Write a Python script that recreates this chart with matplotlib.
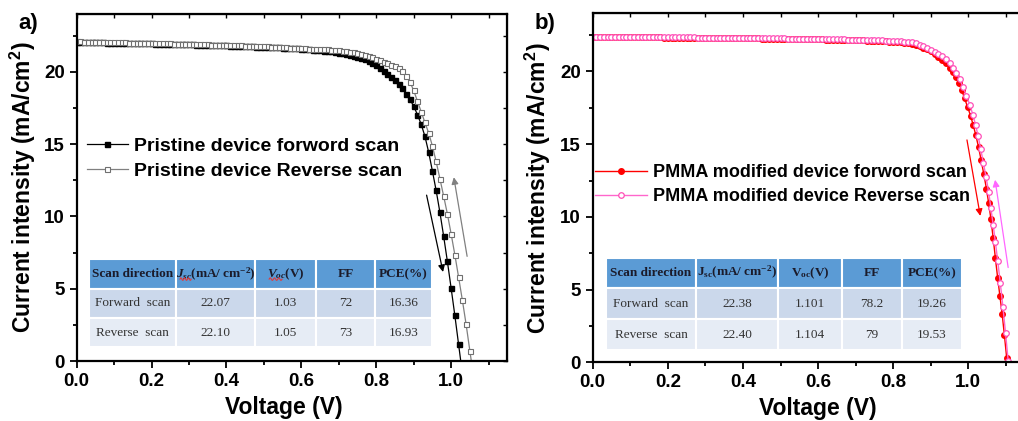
import numpy as np
import matplotlib.pyplot as plt
from matplotlib.patches import Rectangle
from matplotlib.ticker import MultipleLocator

plt.rcParams['font.family'] = 'Liberation Sans'
plt.rcParams['font.weight'] = 'bold'
plt.rcParams['mathtext.fontset'] = 'custom'
plt.rcParams['mathtext.rm'] = 'Liberation Serif'
plt.rcParams['mathtext.it'] = 'Liberation Serif:italic:bold'
plt.rcParams['mathtext.bf'] = 'Liberation Serif:bold'
plt.rcParams['mathtext.sf'] = 'Liberation Sans:bold'

scan_step = 0.01  # V

# a) pristine device, J in mA/cm2 at each scan step from 0 V
j_pristine_fwd = [
    22.07, 22.07, 22.06, 22.06, 22.05, 22.05, 22.04, 22.04, 22.03, 22.03,
    22.02, 22.02, 22.01, 22.01, 22.00, 22.00, 21.99, 21.99, 21.98, 21.98,
    21.97, 21.96, 21.96, 21.95, 21.95, 21.94, 21.93, 21.93, 21.92, 21.91,
    21.91, 21.90, 21.89, 21.89, 21.88, 21.87, 21.86, 21.86, 21.85, 21.84,
    21.83, 21.82, 21.81, 21.80, 21.79, 21.78, 21.77, 21.76, 21.75, 21.74,
    21.73, 21.72, 21.71, 21.70, 21.69, 21.68, 21.67, 21.65, 21.64, 21.62,
    21.60, 21.58, 21.56, 21.54, 21.52, 21.50, 21.47, 21.44, 21.41, 21.37,
    21.33, 21.29, 21.25, 21.20, 21.13, 21.05, 20.96, 20.86, 20.74, 20.60,
    20.44, 20.27, 20.08, 19.88, 19.66, 19.42, 19.15, 18.85, 18.50, 18.10,
    17.62, 17.05, 16.38, 15.55, 14.45, 13.15, 11.80, 10.30, 8.65, 6.90,
    5.05, 3.15, 1.15, -0.85]
j_pristine_rev = [
    22.10, 22.10, 22.09, 22.09, 22.08, 22.08, 22.07, 22.07, 22.06, 22.06,
    22.05, 22.05, 22.04, 22.04, 22.03, 22.03, 22.02, 22.02, 22.01, 22.01,
    22.00, 21.99, 21.99, 21.98, 21.98, 21.97, 21.96, 21.96, 21.95, 21.94,
    21.94, 21.93, 21.92, 21.92, 21.91, 21.90, 21.89, 21.89, 21.88, 21.87,
    21.86, 21.85, 21.84, 21.84, 21.83, 21.82, 21.81, 21.80, 21.79, 21.78,
    21.77, 21.76, 21.75, 21.74, 21.73, 21.71, 21.70, 21.68, 21.66, 21.64,
    21.63, 21.62, 21.61, 21.60, 21.59, 21.58, 21.56, 21.55, 21.53, 21.51,
    21.50, 21.47, 21.44, 21.40, 21.36, 21.30, 21.24, 21.17, 21.09, 21.00,
    20.90, 20.80, 20.70, 20.60, 20.50, 20.40, 20.24, 20.04, 19.72, 19.30,
    18.72, 17.98, 17.25, 16.50, 15.78, 14.88, 13.80, 12.62, 11.42, 10.18,
    8.80, 7.35, 5.80, 4.22, 2.55, 0.72, -1.10]

# b) PMMA modified device: 10 mV steps up to 0.95 V, then the logged points near Voc
j_pmma_fwd_flat = [
    22.38, 22.38, 22.38, 22.37, 22.37, 22.37, 22.37, 22.36, 22.36, 22.36,
    22.36, 22.35, 22.35, 22.35, 22.35, 22.34, 22.34, 22.34, 22.34, 22.33,
    22.33, 22.33, 22.33, 22.32, 22.32, 22.32, 22.32, 22.31, 22.31, 22.31,
    22.31, 22.30, 22.30, 22.30, 22.30, 22.29, 22.29, 22.29, 22.29, 22.28,
    22.28, 22.28, 22.27, 22.27, 22.27, 22.26, 22.26, 22.26, 22.25, 22.25,
    22.25, 22.24, 22.24, 22.23, 22.23, 22.23, 22.22, 22.22, 22.21, 22.21,
    22.20, 22.20, 22.19, 22.19, 22.18, 22.18, 22.17, 22.16, 22.16, 22.15,
    22.14, 22.14, 22.13, 22.12, 22.11, 22.10, 22.09, 22.08, 22.07, 22.05,
    22.04, 22.02, 22.00, 21.97, 21.93, 21.88, 21.82, 21.74, 21.64, 21.52,
    21.38, 21.22, 21.02, 20.80, 20.55, 20.27]
v_pmma_fwd_end = [0.958, 0.966, 0.974, 0.982, 0.990, 0.998, 1.006, 1.013, 1.020, 1.027, 1.034,
                  1.041, 1.048, 1.054, 1.060, 1.066, 1.072, 1.078, 1.084, 1.090, 1.096, 1.102]
j_pmma_fwd_end = [19.95, 19.62, 19.22, 18.72, 18.15, 17.55, 16.95, 16.30, 15.60, 14.80, 13.90,
                  12.95, 11.95, 10.95, 9.85, 8.55, 7.15, 5.80, 4.55, 3.30, 1.85, 0.30]

j_pmma_rev_flat = [
    22.40, 22.40, 22.40, 22.40, 22.39, 22.39, 22.39, 22.39, 22.38, 22.38,
    22.38, 22.38, 22.37, 22.37, 22.37, 22.37, 22.36, 22.36, 22.36, 22.36,
    22.35, 22.35, 22.35, 22.35, 22.34, 22.34, 22.34, 22.34, 22.33, 22.33,
    22.33, 22.33, 22.32, 22.32, 22.32, 22.32, 22.31, 22.31, 22.31, 22.31,
    22.30, 22.30, 22.30, 22.29, 22.29, 22.29, 22.28, 22.28, 22.28, 22.27,
    22.27, 22.27, 22.26, 22.26, 22.26, 22.25, 22.25, 22.24, 22.24, 22.24,
    22.23, 22.23, 22.22, 22.22, 22.21, 22.21, 22.20, 22.20, 22.19, 22.18,
    22.18, 22.17, 22.17, 22.16, 22.15, 22.15, 22.14, 22.13, 22.12, 22.12,
    22.11, 22.10, 22.08, 22.06, 22.03, 22.00, 21.94, 21.85, 21.74, 21.62,
    21.49, 21.35, 21.21, 21.04, 20.86, 20.60]
v_pmma_rev_end = [0.959, 0.968, 0.977, 0.986, 0.995, 1.004, 1.012, 1.019, 1.026, 1.033, 1.040,
                  1.047, 1.054, 1.060, 1.066, 1.072, 1.078, 1.085, 1.092, 1.099, 1.106]
j_pmma_rev_end = [20.22, 19.92, 19.45, 18.92, 18.32, 17.70, 17.02, 16.35, 15.55, 14.65, 13.70,
                  12.75, 11.70, 10.60, 9.45, 8.25, 7.00, 5.45, 3.80, 2.00, 0.10]

# photovoltaic parameters
table_header_a = ['Scan direction', r'$\mathit{J_{sc}}$(mA/ cm$\mathbf{^{-2}}$)', r'$\mathit{V_{oc}}$(V)', 'FF', 'PCE(%)']
table_header_b = ['Scan direction', r'J$\mathbf{_{sc}}$(mA/ cm$\mathbf{^{-2}}$)', r'V$\mathbf{_{oc}}$(V)', 'FF', 'PCE(%)']
table_rows_a = [['Forward  scan', '22.07', '1.03', '72', '16.36'],
                ['Reverse  scan', '22.10', '1.05', '73', '16.93']]
table_rows_b = [['Forward  scan', '22.38', '1.101', '78.2', '19.26'],
                ['Reverse  scan', '22.40', '1.104', '79', '19.53']]


def style_axes(ax):
    ax.set_xlim(0, 1.15)
    ax.set_ylim(0, 24)
    ax.xaxis.set_major_locator(MultipleLocator(0.2))
    ax.xaxis.set_minor_locator(MultipleLocator(0.1))
    ax.yaxis.set_major_locator(MultipleLocator(5))
    ax.yaxis.set_minor_locator(MultipleLocator(2.5))
    ax.tick_params(which='both', direction='out', width=1.3, labelsize=13.5)
    ax.tick_params(which='major', length=5)
    ax.tick_params(which='minor', length=3)
    for s in ax.spines.values():
        s.set_linewidth(1.6)
    ax.set_xticklabels(['%.1f' % t for t in ax.get_xticks()])
    # inward ticks on the top and right frame
    top = ax.secondary_xaxis('top')
    top.xaxis.set_major_locator(MultipleLocator(0.2))
    top.xaxis.set_minor_locator(MultipleLocator(0.1))
    top.tick_params(which='both', direction='in', labeltop=False, width=1.0, length=3)
    right = ax.secondary_yaxis('right')
    right.yaxis.set_major_locator(MultipleLocator(5))
    right.yaxis.set_minor_locator(MultipleLocator(2.5))
    right.tick_params(which='both', direction='in', labelright=False, width=1.0, length=3)
    ax.set_xlabel('Voltage (V)', fontsize=16.5, fontweight='bold')
    ax.set_ylabel(r'Current intensity (mA/cm$\mathsf{^2}$)', fontsize=16.5, fontweight='bold')


def draw_table(ax, x_edges, y_edges, header, rows):
    fills = ['#5B9BD5', '#CBD8EB', '#E6ECF5']
    lines = [header] + rows
    for r in range(3):
        for c in range(5):
            x0, x1 = x_edges[c], x_edges[c + 1]
            y0, y1 = y_edges[r + 1], y_edges[r]
            ax.add_patch(Rectangle((x0, y0), x1 - x0, y1 - y0, transform=ax.transAxes,
                                   facecolor=fills[r], edgecolor='white', lw=1.5,
                                   clip_on=False, zorder=4))
            ax.text((x0 + x1) / 2, (y0 + y1) / 2, lines[r][c], transform=ax.transAxes,
                    ha='center', va='center', family='Liberation Serif', fontsize=9.5,
                    fontweight='bold' if r == 0 else 'normal',
                    color='#1b1b2a' if r == 0 else '#333333', zorder=5)


def squiggle(ax, x0, x1, y):
    # red spell-check underline under a header symbol
    t = np.linspace(0, 1, 40)
    ax.plot(x0 + (x1 - x0) * t, y + 0.0035 * np.sin(t * 6 * np.pi), color='#E23B3B',
            lw=0.8, transform=ax.transAxes, clip_on=False, zorder=6)


fig = plt.figure(figsize=(10.18, 4.21), dpi=100)
ax1 = fig.add_axes([0.0753, 0.1425, 0.4230, 0.8242])
ax2 = fig.add_axes([0.5822, 0.1394, 0.4244, 0.8290])

v_a_fwd = scan_step * np.arange(len(j_pristine_fwd))
v_a_rev = scan_step * np.arange(len(j_pristine_rev))
ax1.plot(v_a_fwd, j_pristine_fwd, '-s', color='black', lw=0.9, ms=3.6,
         mfc='black', mec='black', label='Pristine device forword scan')
ax1.plot(v_a_rev, j_pristine_rev, '-s', color='#808080', lw=0.9, ms=3.6,
         mfc='white', mec='#707070', mew=0.8, label='Pristine device Reverse scan')
ax1.annotate('', xy=(0.980, 5.97), xytext=(0.933, 11.66),
             arrowprops=dict(arrowstyle='-|>', color='black', lw=0.9, mutation_scale=10))
ax1.annotate('', xy=(1.006, 12.9), xytext=(1.044, 7.05),
             arrowprops=dict(arrowstyle='-|>', color='#808080', lw=0.9, mutation_scale=10))
style_axes(ax1)
ax1.legend(loc='upper left', bbox_to_anchor=(0.024, 0.6455), frameon=False,
           prop=dict(family='Liberation Sans', weight='bold', size=14),
           borderpad=0, borderaxespad=0, handlelength=2.1, handletextpad=0.3,
           labelspacing=0.38)
draw_table(ax1, [0.0286, 0.2306, 0.4140, 0.5556, 0.6927, 0.8250],
           [0.294, 0.2075, 0.124, 0.0403], table_header_a, table_rows_a)
squiggle(ax1, 0.240, 0.266, 0.236)
squiggle(ax1, 0.447, 0.477, 0.236)

v_b_fwd = np.concatenate([scan_step * np.arange(len(j_pmma_fwd_flat)), v_pmma_fwd_end])
j_b_fwd = j_pmma_fwd_flat + j_pmma_fwd_end
v_b_rev = np.concatenate([scan_step * np.arange(len(j_pmma_rev_flat)), v_pmma_rev_end])
j_b_rev = j_pmma_rev_flat + j_pmma_rev_end
ax2.plot(v_b_fwd, j_b_fwd, '-o', color='#FF0000', lw=1.0, ms=4.0,
         mfc='#FF0000', mec='#FF0000', label='PMMA modified device forword scan')
ax2.plot(v_b_rev, j_b_rev, '-o', color='#FF66CC', lw=1.0, ms=4.0,
         mfc='white', mec='#FF4FB8', mew=0.9, label='PMMA modified device Reverse scan')
ax2.annotate('', xy=(1.033, 9.88), xytext=(0.995, 15.48),
             arrowprops=dict(arrowstyle='-|>', color='#FF0000', lw=0.9, mutation_scale=10))
ax2.annotate('', xy=(1.070, 12.74), xytext=(1.107, 6.33),
             arrowprops=dict(arrowstyle='-|>', color='#FF66FF', lw=0.9, mutation_scale=10))
style_axes(ax2)
ax2.legend(loc='upper left', bbox_to_anchor=(0.005, 0.567), frameon=False,
           prop=dict(family='Liberation Sans', weight='bold', size=13),
           borderpad=0, borderaxespad=0, handlelength=2.9, handletextpad=0.33,
           labelspacing=0.39)
draw_table(ax2, [0.0308, 0.2391, 0.4289, 0.5771, 0.7160, 0.8549],
           [0.299, 0.2130, 0.124, 0.0352], table_header_b, table_rows_b)

ax1.yaxis.set_label_coords(-0.09, 0.5)
ax2.yaxis.set_label_coords(-0.092, 0.5)
ax1.xaxis.set_label_coords(0.48, -0.10)
ax2.xaxis.set_label_coords(0.52, -0.10)

fig.text(0.0275, 0.943, 'a)', fontsize=16, fontweight='bold', ha='center', va='center')
fig.text(0.5354, 0.943, 'b)', fontsize=16, fontweight='bold', ha='center', va='center')

fig.savefig('out.png', dpi=100)
